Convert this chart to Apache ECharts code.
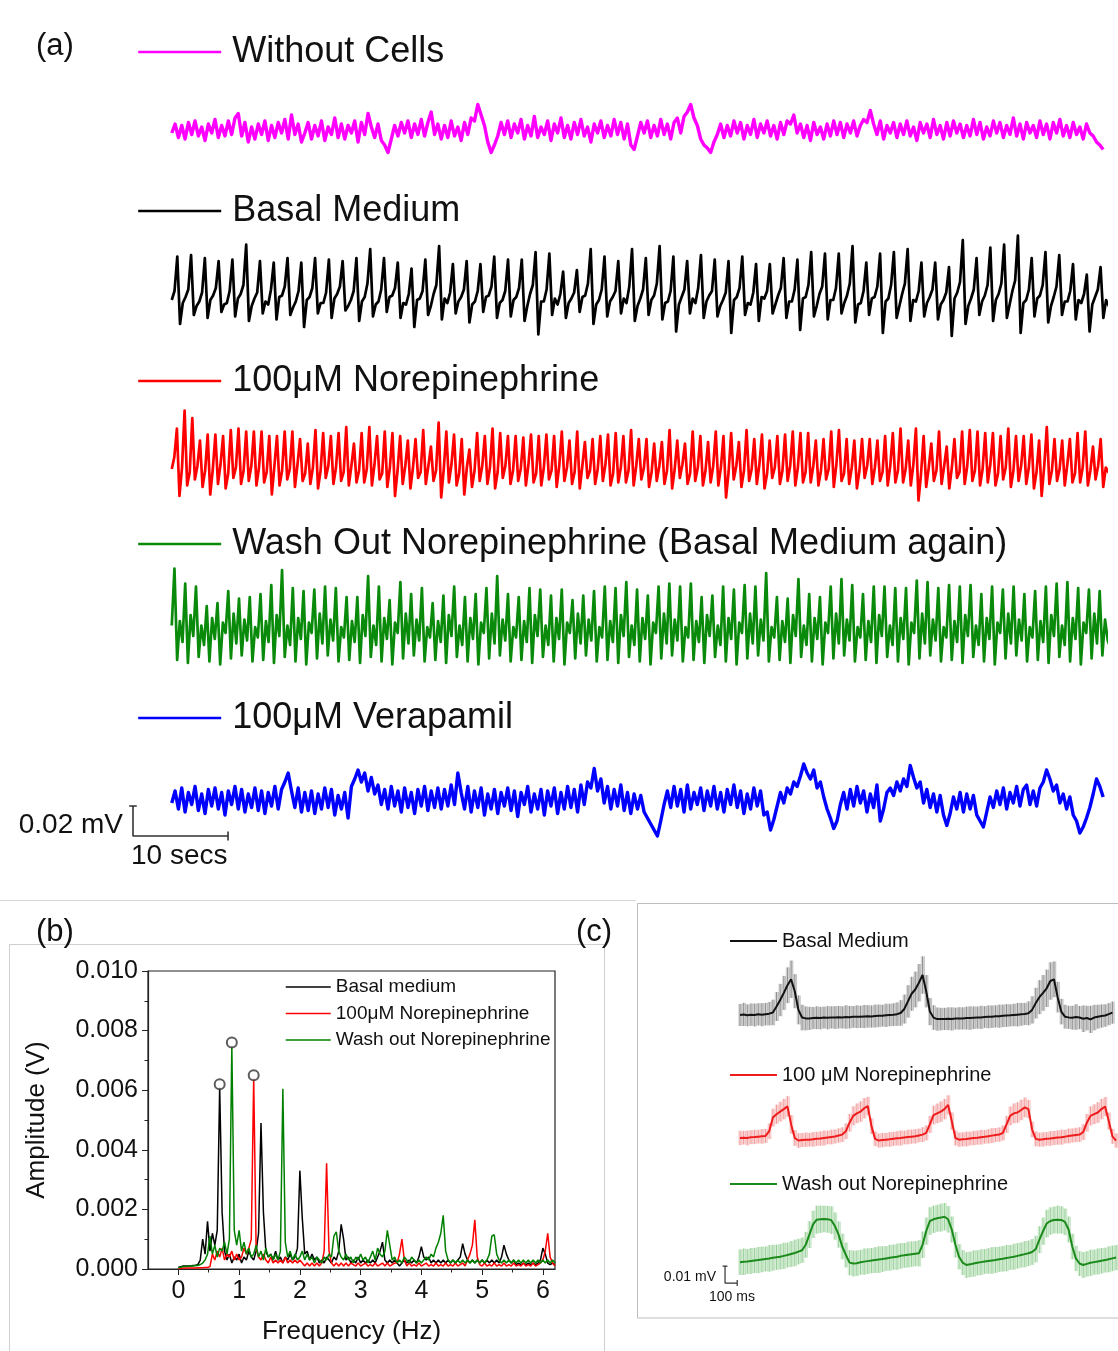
<!DOCTYPE html>
<html>
<head>
<meta charset="utf-8">
<script src="https://cdn.jsdelivr.net/npm/echarts@6/dist/echarts.min.js"></script>
<style>
html, body { margin: 0; padding: 0; background: #fff; }
#chart { width: 1118px; height: 1351px; }
</style>
</head>
<body>
<div id="chart"></div>
<script>
var fontFam = '"Liberation Sans", Arial, Helvetica, sans-serif';

// ---------- panel (a): recordings in µV, one sample every dt seconds ----------
var dtPink = 0.35;
var withoutCells = [
 -2,4,-5,3,-6,5,-3,6,-4,2,-7,4,-2,7,-5,3,-4,6,-3,8,
 11,-4,5,-8,2,-6,4,-3,6,-7,3,-5,5,-2,7,-6,10,-3,4,-8,
 -2,5,-6,3,-4,6,-7,2,-3,8,-5,4,-6,3,-2,6,-8,5,-3,11,
 2,-5,4,-7,-10,-15,-6,3,-4,5,-2,6,-5,4,-3,7,-4,5,12,-3,
 4,-6,3,-5,6,-4,2,-7,5,-3,8,6,17,10,3,-8,-15,-10,-4,5,
 -3,6,-5,4,-2,7,-6,3,-4,9,-5,2,-3,6,-7,4,-2,8,-5,3,
 -6,5,-3,7,-4,2,-8,4,-2,6,-5,3,-4,7,-3,5,-6,4,-10,-13,
 -4,5,-2,6,-5,3,-4,7,-3,4,-6,5,8,-2,9,12,17,8,3,-6,
 -10,-12,-15,-8,-3,4,-5,3,-4,6,-2,5,-6,3,-3,7,-5,4,-2,6,
 -4,3,-6,5,-3,6,4,10,-2,4,-5,3,-7,5,-3,2,-6,4,-4,6,
 -3,5,-5,4,-2,6,-4,3,7,5,13,4,-3,6,-6,3,-2,5,-5,4,
 -3,6,-4,2,-7,5,-2,4,-5,7,-3,3,-6,5,-4,6,-2,4,-5,3,
 -4,7,-3,5,-6,2,-4,6,-2,5,-5,3,-3,8,-4,4,-6,5,-2,3,
 -5,6,-3,4,-6,5,-2,7,-4,3,-5,5,-3,2,-6,4,-2,-4,-8,-10,-13
];

var dtBasal = 0.29;
var basalMedium = [
 -8,-2,21,-24,-10, -6,-1,22,-18,-12, -9,-3,20,-20,-8, -5,0,18,-16,-11,
 -10,-2,19,-19,-7, -4,2,29,-22,-12, -7,-3,18,-17,-9, -11,-1,17,-21,-6,
 -5,1,20,-18,-13, -9,-2,17,-26,-8, -6,0,20,-17,-10, -10,-3,19,-20,-7,
 -4,1,18,-15,-12, -8,-2,20,-22,-9, -6,3,26,-19,-11, -9,-1,20,-16,-6,
 -5,0,17,-20,-10, -11,-4,13,-26,-8, -7,-2,19,-18,-12, -4,2,28,-21,-7,
 -10,-3,16,-17,-9, -6,-1,18,-23,-11, -9,-2,16,-16,-6, -5,1,21,-20,-10,
 -8,-2,19,-19,-8, -6,0,19,-22,-12, -4,2,24,-31,-9, -9,-1,23,-18,-7,
 -11,-4,11,-20,-10, -7,-3,12,-16,-6, -5,3,26,-24,-11, -8,-1,21,-19,-9,
 -6,-2,18,-17,-7, -10,1,26,-22,-12, -7,-1,20,-18,-8, -5,3,28,-21,-10,
 -9,-2,21,-29,-11, -6,-1,18,-17,-7, -10,0,22,-20,-9, -5,-2,19,-19,-12,
 -8,-3,18,-30,-8, -6,0,21,-18,-10, -11,-3,16,-22,-6, -7,-2,16,-17,-11,
 -5,0,20,-20,-9, -9,-1,19,-28,-7, -6,2,24,-19,-12, -4,1,23,-21,-8,
 -8,0,23,-17,-10, -5,3,28,-23,-11, -10,-2,17,-18,-7, -6,1,23,-30,-9,
 -7,2,24,-20,-12, -4,3,26,-22,-8, -9,-2,17,-19,-10, -6,-1,17,-21,-11,
 -8,-3,14,-32,-7, -3,4,32,-24,-12, -7,-1,20,-18,-9, -5,2,27,-22,-8,
 -4,3,29,-20,-11, -2,5,35,-30,-10, -8,-1,20,-19,-7, -5,2,24,-23,-12,
 -6,1,22,-18,-9, -9,-2,16,-21,-8, -10,-4,9,-29,-11, -6,-1,14,-20,-8,
 -12,-8
];

var dtNorepi = 0.27;
var norepinephrine = [
 -10,-2,
 17,-28,-9, 29,-21,-12, 24,-17,-8, 9,-22,-11, 13,-27,-10, 13,-20,-7, 12,-23,-13, 16,-16,-9,
 17,-20,-11, 15,-18,-8, 15,-21,-9, 15,-19,-12, 12,-27,-8, 12,-21,-11, 15,-17,-10, 15,-22,-7,
 10,-18,-13, 7,-20,-9, 16,-23,-11, 14,-16,-8, 12,-20,-9, 14,-18,-12, 18,-21,-8, 7,-19,-11,
 14,-19,-10, 18,-21,-7, 12,-17,-13, 15,-22,-9, 14,-28,-11, 12,-20,-8, 9,-23,-9, 10,-16,-12,
 16,-20,-8, 5,-18,-11, 21,-29,-10, 15,-19,-7, 13,-21,-13, 10,-27,-9, 3,-22,-11, 14,-18,-8,
 12,-20,-9, 17,-23,-12, 14,-16,-8, 12,-20,-11, 12,-18,-10, 11,-21,-7, 13,-19,-13, 12,-21,-9,
 13,-17,-11, 12,-22,-8, 15,-18,-9, 9,-20,-12, 15,-23,-8, 8,-16,-11, 10,-20,-10, 12,-18,-7,
 13,-21,-13, 14,-19,-9, 12,-19,-11, 16,-21,-8, 10,-17,-9, 10,-22,-12, 7,-18,-8, 8,-20,-11,
 16,-23,-10, 9,-16,-7, 7,-20,-13, 15,-18,-9, 12,-21,-11, 8,-19,-8, 15,-21,-9, 12,-29,-12,
 14,-17,-8, 8,-22,-11, 16,-18,-10, 10,-20,-7, 13,-23,-13, 9,-16,-9, 12,-20,-11, 13,-18,-8,
 15,-21,-9, 14,-19,-12, 14,-19,-8, 9,-21,-11, 10,-17,-10, 15,-22,-7, 16,-18,-13, 10,-20,-9,
 9,-23,-11, 10,-16,-8, 10,-20,-9, 9,-18,-12, 12,-21,-8, 14,-19,-11, 17,-19,-10, 9,-21,-7,
 17,-31,-13, 12,-22,-9, 7,-18,-11, 15,-20,-8, 5,-23,-9, 10,-16,-12, 15,-20,-8, 16,-18,-11,
 15,-21,-10, 14,-19,-7, 14,-21,-13, 12,-17,-9, 17,-22,-11, 12,-18,-8, 12,-20,-9, 13,-23,-12,
 9,-28,-8, 18,-20,-11, 10,-18,-10, 9,-21,-7, 10,-19,-13, 14,-19,-9, 15,-21,-11, 5,-17,-8,
 10,-22,-9,
 -12,-6
];

var dtWash = 0.283;
var washOut = [
 -5,
 33,-28,-2,-16, 23,-30,2,-12, 21,-26,-5,-18, 8,-29,0,-14, 10,-31,-3,-10, 18,-27,3,-17, 13,-25,-1,-15, 14,-29,-6,-13,
 16,-28,-2,-16, 22,-30,2,-12, 32,-26,-5,-18, 20,-29,0,-14, 18,-31,-3,-10, 19,-27,3,-17, 21,-25,-1,-15, 20,-29,-6,-13,
 14,-28,-2,-16, 14,-30,2,-12, 28,-26,-5,-18, 21,-29,0,-14, 12,-31,-3,-10, 24,-27,3,-17, 16,-25,-1,-15, 20,-29,-6,-13,
 10,-28,-2,-16, 15,-30,2,-12, 21,-26,-5,-18, 14,-29,0,-14, 16,-31,-3,-10, 20,-27,3,-17, 28,-25,-1,-15, 16,-29,-6,-13,
 14,-28,-2,-16, 20,-30,2,-12, 19,-26,-5,-18, 15,-29,0,-14, 19,-31,-3,-10, 12,-27,3,-17, 15,-25,-1,-15, 18,-29,-6,-13,
 21,-28,-2,-16, 20,-30,2,-12, 24,-26,-5,-18, 19,-29,0,-14, 15,-31,-3,-10, 21,-27,3,-17, 23,-25,-1,-15, 21,-29,-6,-13,
 23,-28,-2,-16, 14,-30,2,-12, 15,-26,-5,-18, 21,-29,0,-14, 19,-31,-3,-10, 22,-27,3,-17, 21,-25,-1,-15, 30,-29,-6,-13,
 14,-28,-2,-16, 13,-30,2,-12, 26,-26,-5,-18, 16,-29,0,-14, 14,-31,-3,-10, 21,-27,3,-17, 26,-25,-1,-15, 22,-29,-6,-13,
 16,-28,-2,-16, 21,-30,2,-12, 21,-26,-5,-18, 20,-29,0,-14, 20,-31,-3,-10, 25,-27,3,-17, 24,-25,-1,-15, 20,-29,-6,-13,
 22,-28,-2,-16, 21,-30,2,-12, 22,-26,-5,-18, 16,-29,0,-14, 21,-31,-3,-10, 19,-27,3,-17, 21,-25,-1,-15, 16,-29,-6,-13,
 18,-28,-2,-16, 21,-30,2,-12, 23,-26,-5,-18, 24,-29,0,-14, 20,-31,-3,-10, 19,-27,3,-17, 18,-25,-1,-15,
 -20,-8
];

var dtVera = 0.35;
var verapamil = [
 -2,6,-6,8,-8,5,-3,9,-7,4,-9,7,-4,8,-6,5,-10,6,-3,9,
 -6,7,-8,4,-5,8,-7,6,-9,5,-4,9,-6,7,12,18,6,-5,8,-8,
 5,-7,6,-9,4,-6,8,-5,7,-10,3,-6,5,-12,9,14,20,12,18,6,
 15,4,10,-3,7,-6,9,-4,6,-8,8,-5,5,-9,7,-4,9,-7,6,-5,
 8,-6,7,-4,10,-3,18,5,-6,9,-8,6,-5,8,-10,4,-6,7,-9,5,
 -4,8,-7,6,-11,5,-3,9,-8,4,-6,7,-10,6,-4,8,-9,5,-6,9,
 -5,7,-8,10,-3,12,8,21,6,14,-2,9,-6,7,-4,10,-7,5,-9,4,
 -6,3,-8,-12,-16,-20,-24,-14,-3,6,-5,9,-4,7,-8,10,-6,5,-3,8,
 -7,6,-4,9,-6,5,-8,7,-3,10,-5,6,-9,4,-6,8,-4,6,-10,-8,
 -20,-13,-4,5,-2,8,4,12,9,16,24,18,14,20,8,12,2,-6,-12,-19,
 -14,-3,5,-6,7,-4,9,-2,6,-8,4,-5,10,-14,-6,5,8,3,12,6,
 14,9,23,15,8,12,-2,7,-5,4,-8,3,-10,-17,-9,2,-6,5,-8,4,
 -6,3,-10,-14,-18,-8,2,-5,6,-3,8,-6,5,-2,9,-4,7,10,-3,6,
 -4,8,12,20,14,6,10,-2,4,-6,2,-10,-14,-22,-18,-12,-5,4,14,9,2
];

// ---------- panel (b): FFT amplitude in mV, one bin every fStep Hz ----------
var fStep = 0.04;
var fftBasal = [
 0.05,0.08,0.1,0.1,0.1,0.1,0.12,0.12,0.15,0.3,
 1.0,0.5,1.6,0.6,1.2,0.8,1.3,6.1,1.9,0.6,
 0.3,0.5,0.2,0.4,0.3,0.5,0.2,0.4,0.3,0.6,
 0.4,0.3,0.6,1.2,4.9,1.9,0.6,0.4,0.5,0.3,
 0.6,0.3,0.4,0.2,0.4,0.3,0.5,0.3,0.4,0.7,
 3.3,1.7,0.5,0.6,0.3,0.5,0.3,0.4,0.2,0.3,
 0.2,0.4,0.3,0.2,0.4,0.3,0.6,1.5,1.0,0.3,
 0.4,0.2,0.3,0.2,0.4,0.2,0.3,0.2,0.3,0.2,
 0.3,0.2,0.4,0.6,0.9,0.3,0.2,0.3,0.2,0.3,
 0.2,0.1,0.2,0.3,0.2,0.3,0.2,0.3,0.2,0.4,
 0.75,0.4,0.3,0.4,0.2,0.3,0.2,0.3,0.2,0.3,
 0.2,0.3,0.2,0.3,0.2,0.3,0.4,0.85,0.5,0.3,
 0.2,0.3,0.2,0.3,0.2,0.3,0.2,0.3,0.2,0.3,
 0.2,0.3,0.2,0.4,0.8,0.5,0.3,0.2,0.3,0.15,
 0.2,0.15,0.2,0.15,0.2,0.15,0.2,0.15,0.2,0.3,
 0.7,0.5,0.2,0.15,0.2,0.15
];
var fftNorepi = [
 0.02,0.02,0.03,0.03,0.03,0.03,0.03,0.03,0.04,0.04,
 0.04,0.05,0.05,0.08,0.5,0.3,0.6,0.4,0.7,0.3,
 0.5,0.4,0.6,0.3,0.5,0.3,0.4,0.7,0.5,0.7,
 1.0,6.4,0.7,0.4,0.3,0.5,0.3,0.2,0.4,0.2,
 0.3,0.2,0.3,0.2,0.4,0.2,0.3,0.2,0.3,0.2,
 0.3,0.2,0.1,0.2,0.1,0.2,0.1,0.2,0.1,0.2,
 0.6,3.55,0.6,0.2,0.1,0.2,0.1,0.2,0.1,0.2,
 0.1,0.2,0.15,0.1,0.2,0.1,0.15,0.2,0.1,0.15,
 0.1,0.2,0.1,0.15,0.2,0.1,0.2,0.1,0.15,0.2,
 0.2,0.5,1.0,0.3,0.1,0.2,0.1,0.15,0.1,0.2,
 0.1,0.15,0.2,0.1,0.15,0.1,0.2,0.1,0.15,0.1,
 0.2,0.1,0.15,0.1,0.2,0.1,0.15,0.2,0.1,0.3,
 0.5,0.8,1.65,0.4,0.15,0.1,0.2,0.1,0.15,0.1,
 0.2,0.1,0.15,0.1,0.2,0.1,0.15,0.1,0.2,0.1,
 0.15,0.1,0.2,0.1,0.15,0.1,0.2,0.1,0.15,0.2,
 0.3,0.6,1.2,0.4,0.2,0.1
];
var fftWash = [
 0.05,0.06,0.08,0.08,0.1,0.1,0.1,0.12,0.12,0.15,
 0.2,0.3,0.5,1.1,0.5,0.8,0.4,0.7,0.6,0.9,
 0.5,1.0,7.5,1.3,0.8,1.3,0.6,0.9,0.5,0.7,
 0.4,0.5,0.8,0.4,0.6,0.3,0.7,0.4,0.5,0.3,
 0.5,0.3,0.6,6.05,0.9,0.4,0.6,0.3,0.5,0.3,
 0.4,0.6,0.3,0.5,0.3,0.4,0.2,0.4,0.3,0.2,
 0.4,0.3,0.5,0.4,1.1,1.25,0.6,0.4,0.3,0.5,
 0.3,0.4,0.2,0.4,0.3,0.5,0.3,0.4,0.2,0.4,
 0.6,0.3,0.7,0.5,0.4,0.6,1.3,0.8,0.3,0.4,
 0.2,0.3,0.2,0.4,0.3,0.2,0.4,0.3,0.2,0.3,
 0.2,0.3,0.4,0.3,0.5,0.4,0.7,0.9,1.2,1.8,
 0.6,0.3,0.2,0.3,0.2,0.3,0.2,0.3,0.2,0.3,
 0.2,0.3,0.2,0.3,0.2,0.3,0.2,0.3,0.5,1.1,
 1.15,0.5,0.3,0.2,0.3,0.2,0.3,0.2,0.3,0.2,
 0.3,0.2,0.3,0.2,0.3,0.2,0.3,0.2,0.3,0.2,
 0.3,0.2,0.3,0.2,0.3,0.2
];
var fftPeaks = [[0.68, 6.2], [0.88, 7.6], [1.24, 6.5]];
var freqTicks = [0, 1, 2, 3, 4, 5, 6];
var freqMinorTicks = [0.5, 1.5, 2.5, 3.5, 4.5, 5.5];

// ---------- panel (c): averaged beats in µV (mean and error), one sample every dtBeat ms ----------
var dtBeat = 30;
var beatBasal = [
 0,0.3,-0.2,0.2,0,0.4,0.2,0.5,0.8,
 1.5,5,8.8,13,17.5,21,14,3,-1.5,-2,
 -2,-1.8,-1.6,-1.8,-1.5,-1.6,-1.4,-1.5,-1.3,-1.4,-1.2,-1.3,-1.1,-1.0,-1.1,-0.9,-0.8,-0.9,-0.6,-0.5,-0.4,-0.2,0,0.2,0.5,1.2,
 3.5,8,12.5,15,19,23.5,14,2,-1.5,-2.4,
 -2.4,-2.3,-2.2,-2.3,-2.1,-2.0,-2.0,-1.8,-1.8,-1.6,-1.5,-1.4,-1.2,-1.1,-1.0,-0.8,-0.7,-0.5,-0.3,-0.2,0,0.2,0.4,0.6,1.0,
 3,7,10.5,13,15.7,20,21,10.5,2,-1,-1.4,
 -1.6,-1.2,-1.5,-2.2,-1.8,-2.6,-1.5,-1.0,-0.6,-0.3,0.5,1.4
];
var errBasal = [
 6.5,6.8,6.4,6.6,6.7,6.5,6.8,6.6,6.9,
 7.5,8.5,9.5,10,10.5,11,10,8.5,7.5,7,
 6.8,6.5,6.7,6.6,6.4,6.8,6.5,6.7,6.6,6.5,6.9,6.6,6.4,6.7,6.5,6.8,6.6,6.5,6.7,6.6,6.4,6.8,6.6,6.7,6.9,
 7.5,8.5,9.5,10,10.5,11,11,9.5,8,7.2,6.8,
 6.6,6.5,6.7,6.8,6.4,6.6,6.5,6.7,6.9,6.6,6.5,6.8,6.4,6.7,6.6,6.5,6.8,6.6,6.7,6.5,6.6,6.9,6.7,6.5,7,
 8,9,10,10.5,11,11,10.5,9,7.5,7,6.8,
 7,7.5,6.8,7.8,7.2,8,7.5,7,6.8,6.6,6.5,6.5
];
var beatNorepi = [
 0,0.2,0,0.5,0.6,0.8,1,1.2,
 4,12,14,15.5,17,18.6,8,0,-1.5,-1.2,
 -1,-1,-0.8,-0.5,-0.3,0,0.3,0.6,0.9,1.5,2,
 4,9,13,14.5,15.5,17.5,18.8,7,-0.5,-1.5,-1.2,
 -1,-0.8,-0.5,-0.2,0,0.3,0.6,0.8,1,1.5,2,3,
 8,13.5,14.5,15.5,17,19.5,10,0,-1,-0.8,
 -0.6,-0.3,0,0.2,0.5,0.7,1,1.4,1.8,2,3,
 8,13,14.5,15,16.5,18,17,5,-0.5,-1,-0.8,
 -0.5,-0.3,0,0.3,0.5,0.8,1.2,1.5,1.8,2,3.5,
 9,13,14,15,17,18.5,10,1,-1.5
];
var errNorepi = [
 4.2,4.0,4.3,4.1,4.2,4.0,4.3,4.1,
 4.6,5.2,5.6,5.8,6,6,5.4,4.6,4.3,4.1,
 4.2,4.0,4.3,4.1,4.2,4.4,4.0,4.3,4.1,4.2,4.3,
 4.6,5.2,5.6,5.8,6,6,5.4,4.6,4.3,4.1,4.2,
 4.0,4.3,4.1,4.2,4.4,4.0,4.3,4.1,4.2,4.0,4.3,4.4,
 5,5.5,5.8,6,6,5.6,5,4.4,4.2,4.1,
 4.3,4.0,4.2,4.1,4.3,4.0,4.2,4.4,4.1,4.2,4.4,
 5,5.5,5.8,6,6,5.8,5.4,4.6,4.3,4.1,4.2,
 4.0,4.3,4.1,4.2,4.4,4.0,4.3,4.1,4.2,4.3,4.6,
 5.2,5.6,5.8,6,6,5.6,5,4.4,4.2
];
var beatWash = [
 -4.2,-4,-3.8,-3.5,-3.2,-3,-2.6,-2.3,-2,-1.6,-1.3,-1,-0.5,0,0.6,1.2,2,2.8,
 6,12,18,20.8,21,21.2,21,20.5,17,12,5,0,
 -4.5,-5,-4.8,-4.3,-3.9,-3.6,-3.3,-3,-2.7,-2.4,-2,-1.6,-1.3,-1,-0.5,-0.2,0.2,0.5,0.8,1,
 6,14,20,21,21.6,22,22.5,21,15,6,-1,
 -4.5,-5.9,-5.5,-5,-4.6,-4.2,-3.8,-3.5,-3.2,-2.9,-2.5,-2.2,-1.8,-1.4,-1,-0.5,0,0.5,1,1.8,3.5,
 9,14,18.5,20,20.6,20.8,20.6,19.5,15,5,-2,
 -5,-5.9,-5.2,-4.6,-4.2,-3.8,-3.4,-3,-2.5,-2,-1.5
];
var errWash = [
 7.5,7.8,7.3,7.6,7.4,7.7,7.5,7.3,7.8,7.6,
 7.4,7.5,7.7,7.3,7.6,7.8,7.5,7.4,7.6,7.9,
 8,8.2,8,7.8,7.9,8.1,8,7.7,7.5,7.3,
 7.4,7.6,7.5,7.3,7.7,7.5,7.4,7.6,7.8,7.5,
 7.3,7.6,7.4,7.7,7.5,7.3,7.6,7.5,7.4,7.7,
 7.8,8,8.1,8,7.9,8.2,8,7.8,7.6,7.5,
 7.4,7.3,7.6,7.5,7.7,7.4,7.6,7.3,7.5,7.8,
 7.6,7.4,7.5,7.7,7.3,7.6,7.5,7.4,7.7,7.5,
 7.6,7.8,7.9,8,8.1,8,7.9,8.2,8,7.8,
 7.6,7.5,7.4,7.3,7.6,7.5,7.7,7.4,7.6,7.5,
 7.3,7.6,7.5,7.4
];

// ---------- helpers ----------
function timeSeries(values, dt) {
  return values.map(function (v, i) { return [+(i * dt).toFixed(4), v]; });
}
function bandData(mean, err, dt) {
  return mean.map(function (m, i) { return [i * dt, m - err[i], m + err[i]]; });
}
// vertical bar (dy) with a cap on top, horizontal bar (dx) with an end tick
function scaleBar(x0, y0, dx, dy, capX, capY) {
  return [
    [x0 - capX, y0 + dy], [x0 + capX, y0 + dy], [x0, '-'],
    [x0, y0 + dy], [x0, y0], [x0 + dx, y0], [x0 + dx, '-'],
    [x0 + dx, y0 - capY], [x0 + dx, y0 + capY]
  ];
}
function stripTag(name) { return name.replace(/ \[(b|c)\]$/, ''); }

var grids = [], xAxes = [], yAxes = [], series = [], legends = [];

// ---------- panel (a) ----------
var traces = [
  { name: 'Without Cells', data: withoutCells, dt: dtPink, color: '#ff00ff', width: 3.4, top: 70, legendTop: 32 },
  { name: 'Basal Medium', data: basalMedium, dt: dtBasal, color: '#000000', width: 2.7, top: 228, legendTop: 191 },
  { name: '100μM Norepinephrine', data: norepinephrine, dt: dtNorepi, color: '#ff0000', width: 2.7, top: 394, legendTop: 361 },
  { name: 'Wash Out Norepinephrine (Basal Medium again)', data: washOut, dt: dtWash, color: '#0a8a0a', width: 2.7, top: 558, legendTop: 524 },
  { name: '100μM Verapamil', data: verapamil, dt: dtVera, color: '#0000ff', width: 3.4, top: 740, legendTop: 698 }
];
traces.forEach(function (t, k) {
  grids.push({ left: 129, top: t.top, width: 977, height: 120, outerBoundsMode: 'none' });
  xAxes.push({ gridIndex: k, type: 'value', min: -4.5, max: 98.3, show: false });
  yAxes.push({ gridIndex: k, type: 'value', min: -40, max: 40, show: false });
  series.push({
    name: t.name, type: 'line', xAxisIndex: k, yAxisIndex: k,
    data: timeSeries(t.data, t.dt), symbol: 'none',
    lineStyle: { color: t.color, width: t.width, join: 'round' }, itemStyle: { color: t.color }
  });
  legends.push({
    data: [t.name], left: 137, top: t.legendTop, padding: 0,
    itemWidth: 83, itemHeight: 40, selectedMode: false,
    itemStyle: { opacity: 0 }, lineStyle: { width: 2.4 },
    textStyle: { fontFamily: fontFam, fontSize: 36, lineHeight: 40, color: '#111', padding: [0, 0, 0, 6] }
  });
});
series.push({
  type: 'line', xAxisIndex: 4, yAxisIndex: 4, symbol: 'none', connectNulls: false,
  data: scaleBar(-4.08, -24, 10, 20, 0.4, 3),
  lineStyle: { color: '#333', width: 1.6 }
});

// ---------- panel (b) ----------
grids.push({ left: 148, top: 971, width: 407, height: 298, show: true, borderColor: '#222', borderWidth: 1.2, outerBoundsMode: 'none' });
xAxes.push({
  gridIndex: 5, type: 'value', min: -0.5, max: 6.2, position: 'bottom',
  name: 'Frequency (Hz)', nameLocation: 'middle', nameGap: 50,
  nameTextStyle: { fontFamily: fontFam, fontSize: 26, color: '#111' },
  axisLine: { show: true, onZero: false, lineStyle: { color: '#222', width: 1.2 } },
  axisTick: { show: true, customValues: freqTicks, length: 6, lineStyle: { color: '#222' } },
  axisLabel: { show: true, customValues: freqTicks, margin: 10, fontFamily: fontFam, fontSize: 25, color: '#111' },
  splitLine: { show: false }
});
xAxes.push({
  gridIndex: 5, type: 'value', min: -0.5, max: 6.2, position: 'bottom',
  axisLine: { show: false },
  axisTick: { show: true, customValues: freqMinorTicks, length: 3.5, lineStyle: { color: '#222' } },
  axisLabel: { show: false }, splitLine: { show: false }
});
yAxes.push({
  gridIndex: 5, type: 'value', min: 0, max: 0.010, interval: 0.002,
  name: 'Amplitude (V)', nameLocation: 'middle', nameGap: 98,
  nameTextStyle: { fontFamily: fontFam, fontSize: 26, color: '#111' },
  axisLine: { show: true, onZero: false, lineStyle: { color: '#222', width: 1.2 } },
  axisTick: { show: true, length: 6, lineStyle: { color: '#222' } },
  minorTick: { show: true, splitNumber: 2, length: 3.5, lineStyle: { color: '#222' } },
  axisLabel: { margin: 10, fontFamily: fontFam, fontSize: 25, color: '#111', formatter: function (v) { return v.toFixed(3); } },
  splitLine: { show: false }
});
var spectra = [
  { name: 'Basal medium [b]', data: fftBasal, color: '#000000' },
  { name: '100μM Norepinephrine [b]', data: fftNorepi, color: '#ff0000' },
  { name: 'Wash out Norepinephrine [b]', data: fftWash, color: '#008000' }
];
spectra.forEach(function (s) {
  series.push({
    name: s.name, type: 'line', xAxisIndex: 5, yAxisIndex: 5, symbol: 'none',
    data: s.data.map(function (v, i) { return [+(i * fStep).toFixed(2), v / 1000]; }),
    lineStyle: { color: s.color, width: 1.5 }, itemStyle: { color: s.color }
  });
});
series.push({
  type: 'scatter', xAxisIndex: 5, yAxisIndex: 5, symbol: 'emptyCircle', symbolSize: 10,
  data: fftPeaks.map(function (p) { return [p[0], p[1] / 1000]; }),
  itemStyle: { color: '#333', borderWidth: 1.3 }, z: 5
});
legends.push({
  data: spectra.map(function (s) { return s.name; }), orient: 'vertical',
  left: 285, top: 977, padding: 0, itemGap: 6.5, itemWidth: 45, itemHeight: 20, selectedMode: false,
  formatter: stripTag, itemStyle: { opacity: 0 }, lineStyle: { width: 1.5 },
  textStyle: { fontFamily: fontFam, fontSize: 19, lineHeight: 20, color: '#111' }
});

// ---------- panel (c) ----------
var beats = [
  { name: 'Basal Medium [c]', mean: beatBasal, err: errBasal, color: '#111111', band: '#8f8f8f', top: 947, ymin: -20, ymax: 40, legendTop: 929 },
  { name: '100 μM Norepinephrine [c]', mean: beatNorepi, err: errNorepi, color: '#ee1c1c', band: '#f39a9a', top: 1070, ymin: -20, ymax: 40, legendTop: 1063 },
  { name: 'Wash out Norepinephrine [c]', mean: beatWash, err: errWash, color: '#1a8a1a', band: '#97d097', top: 1195.5, ymin: -25, ymax: 35, legendTop: 1172 }
];
beats.forEach(function (b, k) {
  var gi = 6 + k, xi = 7 + k, yi = 6 + k;
  grids.push({ left: 721.75, top: b.top, width: 396.25, height: 102, outerBoundsMode: 'none' });
  xAxes.push({ gridIndex: gi, type: 'value', min: -150, max: 3106, show: false });
  yAxes.push({ gridIndex: gi, type: 'value', min: b.ymin, max: b.ymax, show: false });
  series.push({
    type: 'custom', xAxisIndex: xi, yAxisIndex: yi, z: 1,
    data: bandData(b.mean, b.err, dtBeat),
    encode: { x: 0, y: [1, 2] },
    renderItem: (function (col) {
      return function (params, api) {
        var p1 = api.coord([api.value(0), api.value(1)]);
        var p2 = api.coord([api.value(0), api.value(2)]);
        var w = api.size([dtBeat, 0])[0];
        return {
          type: 'group',
          children: [
            { type: 'rect', shape: { x: p1[0] - w / 2, y: p2[1], width: w, height: p1[1] - p2[1] }, style: { fill: col, opacity: 0.35 } },
            { type: 'line', shape: { x1: p1[0], y1: p1[1], x2: p2[0], y2: p2[1] }, style: { stroke: col, lineWidth: 1 } },
            { type: 'line', shape: { x1: p1[0] + w / 2, y1: p1[1], x2: p2[0] + w / 2, y2: p2[1] }, style: { stroke: col, lineWidth: 0.6, opacity: 0.7 } }
          ]
        };
      };
    })(b.band)
  });
  series.push({
    name: b.name, type: 'line', xAxisIndex: xi, yAxisIndex: yi, symbol: 'none', z: 3,
    data: timeSeries(b.mean, dtBeat),
    lineStyle: { color: b.color, width: 2 }, itemStyle: { color: b.color }
  });
  legends.push({
    data: [b.name], left: 729, top: b.legendTop, padding: 0,
    itemWidth: 47, itemHeight: 24, selectedMode: false, formatter: stripTag,
    itemStyle: { opacity: 0 }, lineStyle: { width: 2 },
    textStyle: { fontFamily: fontFam, fontSize: 20, lineHeight: 24, color: '#111' }
  });
});
series.push({
  type: 'line', xAxisIndex: 9, yAxisIndex: 8, symbol: 'none', connectNulls: false,
  data: scaleBar(-123, -16.5, 100, 10, 20, 1.8),
  lineStyle: { color: '#333', width: 1.2 }
});

// ---------- labels and frames ----------
function label(text, x, y, size, align) {
  return {
    type: 'text', x: x, y: y, silent: true,
    style: { text: text, fontFamily: fontFam, fontSize: size, fill: '#111', align: align || 'left', verticalAlign: 'middle' }
  };
}
var graphics = [
  { type: 'line', shape: { x1: 0, y1: 900.5, x2: 636, y2: 900.5 }, style: { stroke: '#d6d6d6', lineWidth: 1 }, silent: true },
  { type: 'rect', shape: { x: 9.5, y: 944.5, width: 595, height: 430 }, style: { fill: 'none', stroke: '#cfcfcf', lineWidth: 1 }, silent: true },
  { type: 'rect', shape: { x: 637.5, y: 903.5, width: 500, height: 414.5 }, style: { fill: 'none', stroke: '#bdbdbd', lineWidth: 1 }, silent: true },
  label('(a)', 36, 46, 31),
  label('(b)', 36, 932, 31),
  label('(c)', 576, 932, 31),
  label('0.02 mV', 123, 825, 28, 'right'),
  label('10 secs', 131, 856, 28),
  label('0.01 mV', 716, 1277, 14, 'right'),
  label('100 ms', 732, 1297, 14, 'center')
];

var chart = echarts.init(document.getElementById('chart'));
chart.setOption({
  animation: false,
  backgroundColor: '#ffffff',
  textStyle: { fontFamily: fontFam },
  grid: grids,
  xAxis: xAxes,
  yAxis: yAxes,
  legend: legends,
  series: series,
  graphic: graphics
});
</script>
</body>
</html>
